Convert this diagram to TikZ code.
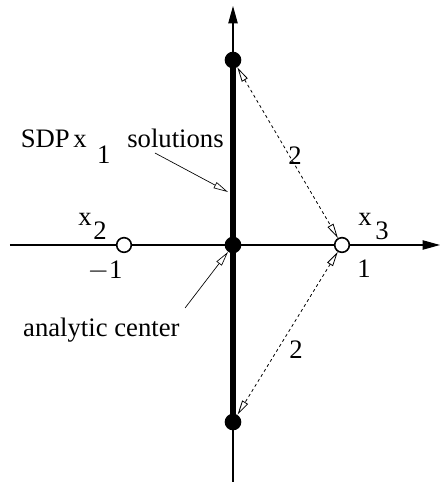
\documentclass[tikz,border=0pt]{standalone}
\usepackage{fontspec}
\setmainfont{Liberation Serif}
\usetikzlibrary{positioning, arrows.meta, calc}

\begin{document}
\begin{tikzpicture}[x=2.873cm, y=2.873cm,
        lbl/.style={inner sep=0pt, font=\fontsize{20}{24}\selectfont},
        dotnode/.style={circle, fill=black, inner sep=0pt, minimum size=12.5pt},
        ringnode/.style={circle, draw=black, fill=white, line width=1.2pt,
            inner sep=0pt, minimum size=11pt},
        axisarr/.style={-{Triangle[length=13pt, width=7pt]}, line width=0.8pt},
        notearr/.style={-{Triangle[open, length=11pt, width=5pt]}, line width=0.5pt},
        distarr/.style={{Triangle[open, length=11pt, width=5pt]}-{Triangle[open, length=11pt, width=5pt]},
            line width=0.6pt, dash pattern=on 2.2pt off 2.2pt}
    ]
    \useasboundingbox (-2.1376,-2.1743) rectangle (1.9083,2.2477);

    % axes
    \coordinate (xl) at (-2.046, 0);
    \coordinate (xr) at (1.899, 0);
    \coordinate (yb) at (0, -2.174);
    \coordinate (yt) at (0, 2.193);
    \draw[axisarr] (xl) -- (xr);
    \draw[axisarr] (yb) -- (yt);

    % SDP solution set
    \coordinate (ptop) at (0, 1.697);
    \coordinate (pbot) at (0, -1.624);
    \draw[line width=4pt] (ptop) -- (pbot);

    \node[dotnode] (top) at (ptop) {};
    \node[dotnode] (bot) at (pbot) {};
    \node[dotnode] (ctr) at (0, 0) {};
    \node[ringnode] (x2) at (-1, 0) {};
    \node[ringnode] (x3) at (1, 0) {};

    % labels
    \node[lbl, anchor=base east] (sdp) at (-1.495, 0.890) {SDP};
    \node[lbl, anchor=base west] (xone) at (-1.468, 0.890) {x};
    \node[lbl, anchor=base west] (xonesub) at (-1.248, 0.752) {1};
    \node[lbl, anchor=base west] (sol) at (-0.972, 0.890) {solutions};

    \node[lbl, anchor=base west] (xtwo) at (-1.422, 0.183) {x};
    \node[lbl, anchor=base west] (xtwosub) at (-1.284, 0.046) {2};
    \node[lbl, anchor=base] (mone) at (-1.174, -0.303) {$-$1};

    \node[lbl, anchor=base west] (xthree) at (1.147, 0.183) {x};
    \node[lbl, anchor=base west] (xthreesub) at (1.303, 0.046) {3};
    \node[lbl, anchor=base west] (one) at (1.138, -0.294) {1};

    \node[lbl, anchor=base west] (dup) at (0.505, 0.734) {2};
    \node[lbl, anchor=base west] (dlo) at (0.514, -1.037) {2};

    \node[lbl, anchor=base west] (ac) at (-1.927, -0.844) {analytic center};

    % pointers
    \coordinate (solfrom) at (-0.716, 0.844);
    \coordinate (solto) at (-0.046, 0.486);
    \draw[notearr] (solfrom) -- (solto);
    \coordinate (acfrom) at (-0.440, -0.578);
    \coordinate (acto) at (-0.046, -0.064);
    \draw[notearr] (acfrom) -- (acto);

    % distances
    \draw[distarr] (top) -- (x3);
    \draw[distarr] (x3) -- (bot);
\end{tikzpicture}
\end{document}
